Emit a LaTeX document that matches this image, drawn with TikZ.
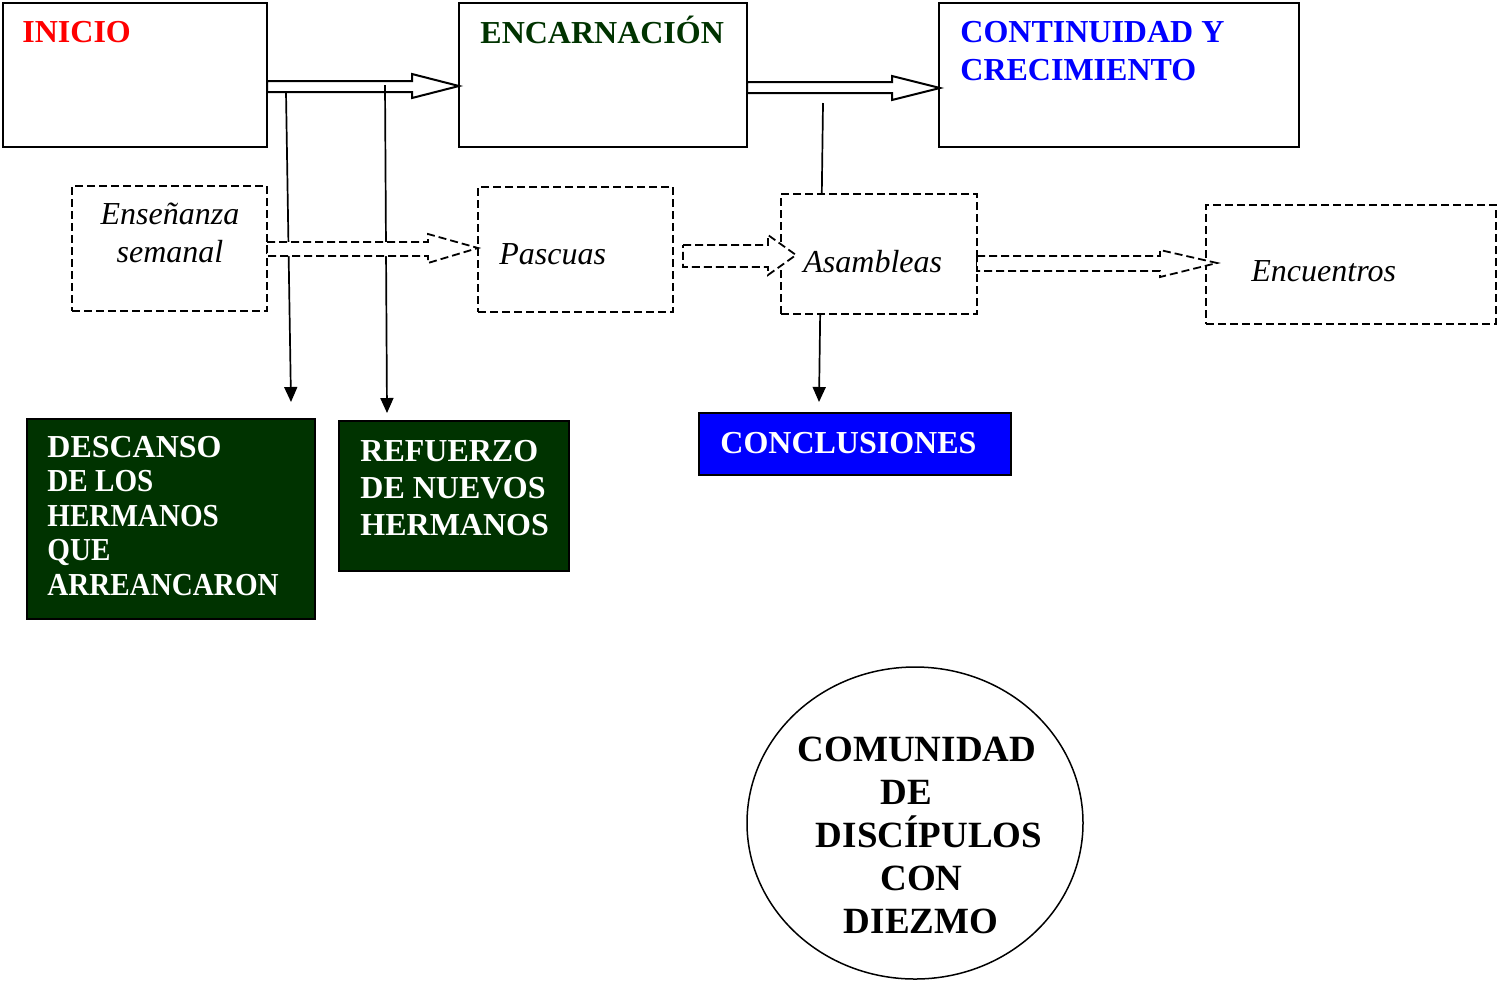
\documentclass[tikz,border=0pt]{standalone}
\usepackage{fontspec}
\setmainfont{Liberation Serif}
\usetikzlibrary{arrows.meta}
\usetikzlibrary{shapes.geometric}
\definecolor{verdeosc}{RGB}{0,51,0}
\definecolor{azul}{RGB}{0,0,255}
\newcommand{\estrecho}[1]{\scalebox{0.91}[1]{#1}}
\tikzset{
  caja/.style={draw, line width=1pt, inner sep=0pt, outer sep=0pt, anchor=north west},
  cajapunt/.style={draw, line width=0.9pt, dash pattern=on 4pt off 2pt, fill=white, inner sep=0pt, outer sep=0pt, anchor=north west},
  cajaverde/.style={caja, fill=verdeosc},
  titulo/.style={anchor=base west, inner sep=0pt, align=left, font=\fontsize{16}{19}\selectfont\bfseries},
  cursiva/.style={anchor=base west, inner sep=0pt, font=\fontsize{16}{19}\selectfont\itshape},
  flechabloque/.style={line width=1pt, line join=miter},
  flechapunt/.style={line width=0.9pt, dash pattern=on 4pt off 2pt, fill=white},
  baja/.style={line width=0.85pt, -{Triangle[length=7.5pt,width=6.5pt]}}
}
\begin{document}
\begin{tikzpicture}[x=0.5pt,y=-0.5pt]
\useasboundingbox (0,0) rectangle (1497,981);
% cajas de arriba
\node[caja, minimum width=132pt, minimum height=72pt] (inicio) at (3,3) {};
\node[caja, minimum width=144pt, minimum height=72pt] (encarnacion) at (459,3) {};
\node[caja, minimum width=180pt, minimum height=72pt] (continuidad) at (939,3) {};
% cajas de abajo
\node[cajaverde, minimum width=144pt, minimum height=100pt] (descanso) at (27,419) {};
\node[cajaverde, minimum width=115pt, minimum height=75pt] (refuerzo) at (339,421) {};
\node[caja, fill=azul, minimum width=156pt, minimum height=31pt] (conclusiones) at (699,413) {};
\node[draw, ellipse, line width=0.75pt, minimum width=168pt, minimum height=156pt] (comunidad) at (915,823) {};
% flechas gruesas
\draw[flechabloque] (267,81) -- (412,81) -- (412,74) -- (459,86) -- (412,98) -- (412,92) -- (267,92) -- cycle;
\draw[flechabloque] (747,82) -- (892,82) -- (892,76) -- (940,88) -- (892,100) -- (892,93) -- (747,93) -- cycle;
% flechas hacia abajo
\coordinate (bajaA) at (286,92);
\coordinate (bajaA-fin) at (291,402);
\coordinate (bajaB) at (385,85);
\coordinate (bajaB-fin) at (387,413);
\coordinate (bajaC) at (823,103);
\coordinate (bajaC-fin) at (819,402);
\draw[baja] (bajaA) -- (bajaA-fin);
\draw[baja] (bajaB) -- (bajaB-fin);
\draw[baja] (bajaC) -- (bajaC-fin);
% cajas punteadas
\node[cajapunt, minimum width=97.5pt, minimum height=62.5pt] (ensenanza) at (72,186) {};
\node[cajapunt, minimum width=97.5pt, minimum height=62.5pt] (pascuas) at (478,187) {};
\node[cajapunt, minimum width=98pt, minimum height=60pt] (asambleas) at (781,194) {};
\node[cajapunt, minimum width=145pt, minimum height=59.5pt] (encuentros) at (1206,205) {};
\draw[flechapunt] (267,242) -- (428,242) -- (428,234) -- (478,248) -- (428,263) -- (428,256) -- (267,256) -- cycle;
\draw[flechapunt] (683,245) -- (768,245) -- (768,235) -- (796,255) -- (768,275) -- (768,267) -- (683,267) -- cycle;
\draw[flechapunt] (977,256) -- (1160,256) -- (1160,250) -- (1217,263) -- (1160,277) -- (1160,271) -- (977,271) -- cycle;
% textos (base = ultima linea)
\node[titulo, text=red] (inicio-t) at (22,42) {INICIO};
\node[titulo, text=verdeosc] (encarnacion-t) at (480,43) {ENCARNACIÓN};
\node[titulo, text=azul] (continuidad-t) at (960,80) {CONTINUIDAD Y\\CRECIMIENTO};
\node[titulo, text=white, font=\fontsize{16}{17.25}\selectfont\bfseries] (descanso-t) at (47,595)
  {DESCANSO\\\estrecho{DE LOS}\\\estrecho{HERMANOS}\\\estrecho{QUE}\\\estrecho{ARREANCARON}};
\node[titulo, text=white, font=\fontsize{16}{18.5}\selectfont\bfseries] (refuerzo-t) at (360,535) {REFUERZO\\DE NUEVOS\\HERMANOS};
\node[titulo, text=white] (conclusiones-t) at (720,453) {CONCLUSIONES};
\node[cursiva, anchor=base, align=center] (ensenanza-t) at (170,262) {Enseñanza\\semanal};
\node[cursiva] (pascuas-t) at (499,264) {Pascuas};
\node[cursiva] (asambleas-t) at (803,272) {Asambleas};
\node[cursiva] (encuentros-t) at (1251,281) {Encuentros};
\node[anchor=base, inner sep=0pt, align=center, font=\fontsize{18.5}{21.5}\selectfont\bfseries] (comunidad-t) at (917,933)
  {COMUNIDAD\\DE\hspace*{10.5pt}\mbox{}\\\hspace*{12pt}DISCÍPULOS\\\hspace*{4.5pt}CON\\\hspace*{4pt}DIEZMO};
\end{tikzpicture}
\end{document}
